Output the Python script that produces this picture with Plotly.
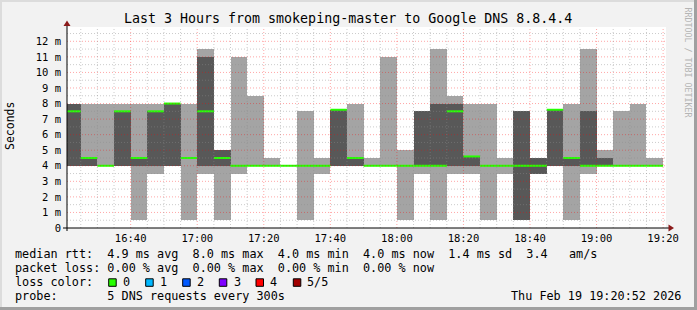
import plotly.graph_objects as go
import pandas as pd

# ---------------- data ----------------
interval_start = ["16:20", "16:25", "16:30", "16:35", "16:40", "16:45", "16:50", "16:55",
                  "17:00", "17:05", "17:10", "17:15", "17:20", "17:25", "17:30", "17:35",
                  "17:40", "17:45", "17:50", "17:55", "18:00", "18:05", "18:10", "18:15",
                  "18:20", "18:25", "18:30", "18:35", "18:40", "18:45", "18:50", "18:55",
                  "19:00", "19:05", "19:10", "19:15"]
# five sorted ping results per interval (ms)
ping_1 = [4.0, 4.0, 4.0, 4.0, 0.5, 3.5, 4.0, 0.5, 3.5, 0.5, 3.5, 4.0, 4.0, 4.0, 0.5, 3.5,
          4.0, 4.0, 4.0, 4.0, 0.5, 3.5, 0.5, 3.5, 3.5, 0.5, 3.5, 0.5, 3.5, 4.0, 0.5, 3.5,
          4.0, 4.0, 4.0, 4.0]
ping_2 = [4.0, 4.0, 4.0, 4.0, 4.0, 4.0, 4.0, 4.5, 4.0, 4.0, 4.0, 4.0, 4.0, 4.0, 4.0, 4.0,
          4.0, 4.0, 4.0, 4.0, 4.0, 4.0, 4.0, 4.0, 4.0, 4.0, 4.0, 0.5, 3.5, 4.0, 4.0, 4.0,
          4.0, 4.0, 4.0, 4.0]
median = [7.5, 4.5, 4.0, 7.5, 4.5, 7.5, 8.0, 4.5, 7.5, 4.5, 4.0, 4.0, 4.0, 4.0, 4.0, 4.0,
          7.6, 4.5, 4.0, 4.0, 4.0, 4.0, 4.0, 7.5, 4.6, 4.0, 4.0, 4.0, 4.0, 7.6, 4.5, 4.0,
          4.0, 4.0, 4.0, 4.0]
ping_4 = [8.0, 4.5, 4.0, 7.5, 4.5, 7.5, 8.0, 4.5, 11.0, 5.0, 4.0, 4.0, 4.0, 4.0, 4.0, 4.0,
          7.6, 4.5, 4.0, 4.0, 4.0, 7.5, 8.0, 8.0, 4.6, 4.0, 4.0, 7.5, 4.5, 7.6, 4.5, 7.5,
          4.5, 4.0, 4.0, 4.0]
ping_5 = [8.0, 8.0, 8.0, 8.0, 8.0, 8.0, 8.0, 8.0, 11.5, 5.0, 11.0, 8.5, 4.5, 4.0, 7.5, 4.5,
          7.6, 8.0, 4.5, 11.0, 5.0, 7.5, 11.5, 8.5, 8.0, 8.0, 4.5, 7.5, 4.5, 7.6, 8.0, 11.5,
          5.0, 7.5, 8.0, 4.5]

x_ticks = ["16:40", "17:00", "17:20", "17:40", "18:00", "18:20", "18:40", "19:00", "19:20"]
y_ticks = [0, 1, 2, 3, 4, 5, 6, 7, 8, 9, 10, 11, 12]
y_ticktext = ["0"] + [f"{v} m" for v in y_ticks[1:]]

title = "Last 3 Hours from smokeping-master to Google DNS 8.8.4.4"
legend_rtt = "median rtt:  4.9 ms avg  8.0 ms max  4.0 ms min  4.0 ms now  1.4 ms sd  3.4   am/s"
legend_loss = "packet loss: 0.00 % avg  0.00 % max  0.00 % min  0.00 % now"
loss_labels = ["0", "1", "2", "3", "4", "5/5"]
loss_colors = ["#26ff00", "#00b8ff", "#0059ff", "#7e00ff", "#ff0000", "#a10000"]
probe_text = "probe:       5 DNS requests every 300s"
date_text = "Thu Feb 19 19:20:52 2026"
watermark = "RRDTOOL / TOBI OETIKER"

# ---------------- geometry ----------------
W, H = 697, 310
L, R, T, B = 67, 666, 27, 228
FONT = "DejaVu Sans Mono"
DAY = "2026-02-19 "

def px(x):
    return (x - L) / (R - L)

def py(y):
    return (B - y) / (B - T)

t0 = pd.Timestamp(DAY + "16:20:52")
t1 = pd.Timestamp(DAY + "19:20:52")
starts = [pd.Timestamp(DAY + s) for s in interval_start]
step = pd.Timedelta(minutes=5)
centers = [s + step / 2 for s in starts]

LIGHT = "#a4a4a4"
DARK = "#585858"

fig = go.Figure()
fig.add_trace(go.Bar(
    x=centers, y=[b - a for a, b in zip(ping_1, ping_5)], base=ping_1,
    width=step.total_seconds() * 1000, marker=dict(color=LIGHT, line=dict(width=0)),
    hoverinfo="skip", showlegend=False))
fig.add_trace(go.Bar(
    x=centers, y=[b - a for a, b in zip(ping_2, ping_4)], base=ping_2,
    width=step.total_seconds() * 1000, marker=dict(color=DARK, line=dict(width=0)),
    hoverinfo="skip", showlegend=False))

mx, my = [], []
for s, m in zip(starts, median):
    mx += [s, s + step, None]
    my += [m, m, None]
fig.add_trace(go.Scatter(x=mx, y=my, mode="lines",
                         line=dict(color=loss_colors[0], width=2),
                         hoverinfo="skip", showlegend=False))

shapes = []
# horizontal grid
v = 0.5
while v <= 12.9:
    major = abs(v - round(v)) < 1e-9
    shapes.append(dict(type="line", xref="paper", yref="y", x0=0, x1=1, y0=v, y1=v,
                       layer="above",
                       line=dict(color="rgba(255,0,0,0.35)" if major else "rgba(140,140,140,0.45)",
                                 width=1, dash="1px,2px")))
    v += 0.5
# vertical grid
t = pd.Timestamp(DAY + "16:25")
while t <= t1:
    major = t.minute % 20 == 0
    shapes.append(dict(type="line", xref="x", yref="paper", x0=t, x1=t, y0=0, y1=1,
                       layer="above",
                       line=dict(color="rgba(255,0,0,0.35)" if major else "rgba(140,140,140,0.45)",
                                 width=1, dash="1px,2px")))
    t += step

# axes lines and arrows
shapes.append(dict(type="line", xref="paper", yref="paper", x0=px(63), x1=px(670),
                   y0=0, y1=0, layer="above", line=dict(color="black", width=1)))
shapes.append(dict(type="line", xref="paper", yref="paper", x0=0, x1=0,
                   y0=py(231), y1=py(22), layer="above", line=dict(color="black", width=1)))
shapes.append(dict(type="path", xref="paper", yref="paper", layer="above",
                   path=f"M {px(63.5)} {py(26)} L {px(70.5)} {py(26)} L {px(67)} {py(20.5)} Z",
                   fillcolor="#8b1a1a", line=dict(width=0)))
shapes.append(dict(type="path", xref="paper", yref="paper", layer="above",
                   path=f"M {px(668.5)} {py(224.5)} L {px(668.5)} {py(231.5)} L {px(674)} {py(228)} Z",
                   fillcolor="#8b1a1a", line=dict(width=0)))

# loss colour boxes
box_x = [108.7, 145.7, 182.7, 219.3, 256.0, 293.3]
for bx, c in zip(box_x, loss_colors):
    shapes.append(dict(type="rect", xref="paper", yref="paper",
                       x0=px(bx), x1=px(bx + 7.5), y0=py(286.3), y1=py(278.8),
                       fillcolor=c, line=dict(color="black", width=1)))

# frame
shapes.append(dict(type="rect", xref="paper", yref="paper", x0=px(0), x1=px(W), y0=py(0), y1=py(2),
                   fillcolor="#dcdcdc", line=dict(width=0)))
shapes.append(dict(type="rect", xref="paper", yref="paper", x0=px(0), x1=px(2), y0=py(0), y1=py(H),
                   fillcolor="#dcdcdc", line=dict(width=0)))
shapes.append(dict(type="rect", xref="paper", yref="paper", x0=px(0), x1=px(W), y0=py(307), y1=py(H),
                   fillcolor="#a0a0a0", line=dict(width=0)))
shapes.append(dict(type="rect", xref="paper", yref="paper", x0=px(694), x1=px(W), y0=py(0), y1=py(H),
                   fillcolor="#a0a0a0", line=dict(width=0)))

def nb(s):
    return s.replace(" ", "\u00a0")

ann = []
def text(x, y, s, size, xanchor="left", color="black", angle=0):
    ann.append(dict(xref="paper", yref="paper", x=px(x), y=py(y), text=nb(s),
                    showarrow=False, xanchor=xanchor, yanchor="middle",
                    textangle=angle, borderpad=0, borderwidth=0,
                    font=dict(family=FONT, size=size, color=color)))

text(347.5, 19, title, 13.3, xanchor="center")
text(10, 126, "Seconds", 11.5, xanchor="center", angle=-90)
text(687.5, 62, watermark, 8.3, xanchor="center", color="#b4b4b4", angle=90)
text(15.3, 254.3, legend_rtt, 11.8)
text(15.3, 268.3, legend_loss, 11.8)
text(15.3, 282.3, "loss color:", 11.8)
label_x = [122.8, 160.2, 197.2, 233.8, 270.2, 306.8]
for lx, lab in zip(label_x, loss_labels):
    text(lx, 282.3, lab, 11.8)
text(15.3, 296, probe_text, 11.8)
text(681, 296, date_text, 11.8, xanchor="right")

fig.update_layout(
    width=W, height=H,
    margin=dict(l=L, r=W - R, t=T, b=H - B, pad=0),
    paper_bgcolor="#f2f2f2", plot_bgcolor="white",
    barmode="overlay", bargap=0,
    showlegend=False,
    shapes=shapes, annotations=ann,
    xaxis=dict(type="date", range=[t0, t1], tickvals=[pd.Timestamp(DAY + s) for s in x_ticks],
               ticktext=x_ticks, showgrid=False, zeroline=False, showline=False,
               ticks="", tickfont=dict(family=FONT, size=10.5, color="black"),
               ticklabelstandoff=2, fixedrange=True),
    yaxis=dict(range=[0, 12.92], tickvals=y_ticks, ticktext=y_ticktext,
               showgrid=False, zeroline=False, showline=False, ticks="",
               tickfont=dict(family=FONT, size=10.5, color="black"),
               ticklabelstandoff=5, fixedrange=True),
)

fig.write_html("out.html", config={"displayModeBar": False})
